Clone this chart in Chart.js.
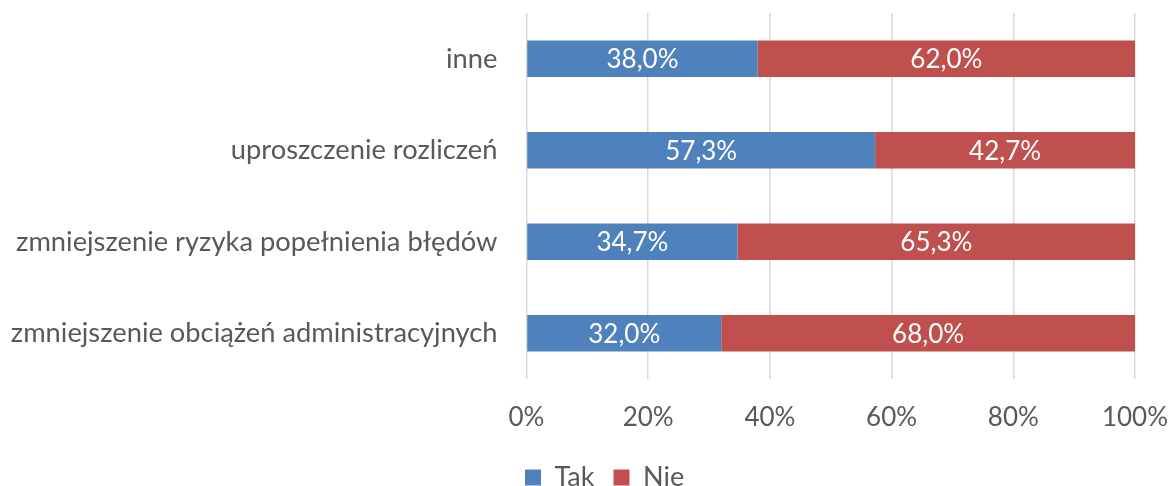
<!DOCTYPE html>
<html><head><meta charset="utf-8">
<script src="https://cdn.jsdelivr.net/npm/chart.js@4/dist/chart.umd.min.js"></script>
<style>html,body{margin:0;padding:0;background:#fff}#wrap{width:1169px;height:486px;position:relative}</style>
</head><body><div id="wrap"><canvas id="c" width="1169" height="486"></canvas></div>
<script>
const categories = ['inne', 'uproszczenie rozliczeń', 'zmniejszenie ryzyka popełnienia błędów', 'zmniejszenie obciążeń administracyjnych'];
const takValues = [38.0, 57.3, 34.7, 32.0];
const nieValues = [62.0, 42.7, 65.3, 68.0];
const seriesNames = ['Tak', 'Nie'];
const xTicks = [0, 20, 40, 60, 80, 100];

const FONT = 'Lato';
const TEXT = '#595959';

const barLabels = {
  id: 'barLabels',
  afterDatasetsDraw(chart) {
    const ctx = chart.ctx;
    ctx.save();
    ctx.font = '26px "' + FONT + '"';
    ctx.fillStyle = '#ffffff';
    ctx.textAlign = 'center';
    ctx.textBaseline = 'middle';
    chart.data.datasets.forEach((ds, i) => {
      const meta = chart.getDatasetMeta(i);
      meta.data.forEach((bar, j) => {
        const v = ds.data[j];
        const cx = (bar.x + bar.base) / 2;
        ctx.fillText(v.toFixed(1).replace('.', ',') + '%', cx, bar.y + 1);
      });
    });
    ctx.restore();
  }
};

const legendShift = {
  id: 'legendShift',
  afterLayout(chart) {
    const lg = chart.legend;
    if (lg) { lg.left -= 20.5; lg.right -= 20.5; lg.top += 15; lg.bottom += 15; }
  }
};

document.fonts.load('27px "' + FONT + '"').then(draw, draw);
function draw() {
  new Chart(document.getElementById('c'), {
    type: 'bar',
    data: {
      labels: categories,
      datasets: [
        { label: seriesNames[0], data: takValues, backgroundColor: '#4F81BD', borderWidth: 0 },
        { label: seriesNames[1], data: nieValues, backgroundColor: '#C0504D', borderWidth: 0 }
      ]
    },
    options: {
      indexAxis: 'y',
      responsive: false,
      animation: false,
      devicePixelRatio: 1,
      layout: { padding: { top: 13, right: 34, left: 0, bottom: 0 } },
      barPercentage: 0.4,
      categoryPercentage: 1,
      scales: {
        x: {
          stacked: true,
          min: 0, max: 100,
          afterBuildTicks(scale) { scale.ticks = xTicks.map(v => ({ value: v })); },
          afterFit(scale) { scale.height = 51; scale.paddingLeft = 0; scale.paddingRight = 0; },
          grid: { color: '#D9D9D9', lineWidth: 1.5, drawTicks: false },
          border: { display: false },
          ticks: {
            padding: 23,
            color: TEXT,
            font: { family: FONT, size: 26 },
            callback: v => v + '%'
          }
        },
        y: {
          stacked: true,
          afterFit(scale) { scale.width = 526.5; scale.paddingTop = 0; scale.paddingBottom = 0; },
          grid: { display: false, drawTicks: false },
          border: { display: false },
          ticks: {
            padding: 29,
            color: TEXT,
            font: { family: FONT, size: 27.3 }
          }
        }
      },
      plugins: {
        legend: {
          position: 'bottom',
          align: 'start',
          fullSize: false,
          labels: {
            boxWidth: 16, boxHeight: 16, padding: 19,
            color: TEXT,
            font: { family: FONT, size: 27 }
          }
        },
        tooltip: { enabled: false }
      }
    },
    plugins: [barLabels, legendShift]
  });
}
</script></body></html>
